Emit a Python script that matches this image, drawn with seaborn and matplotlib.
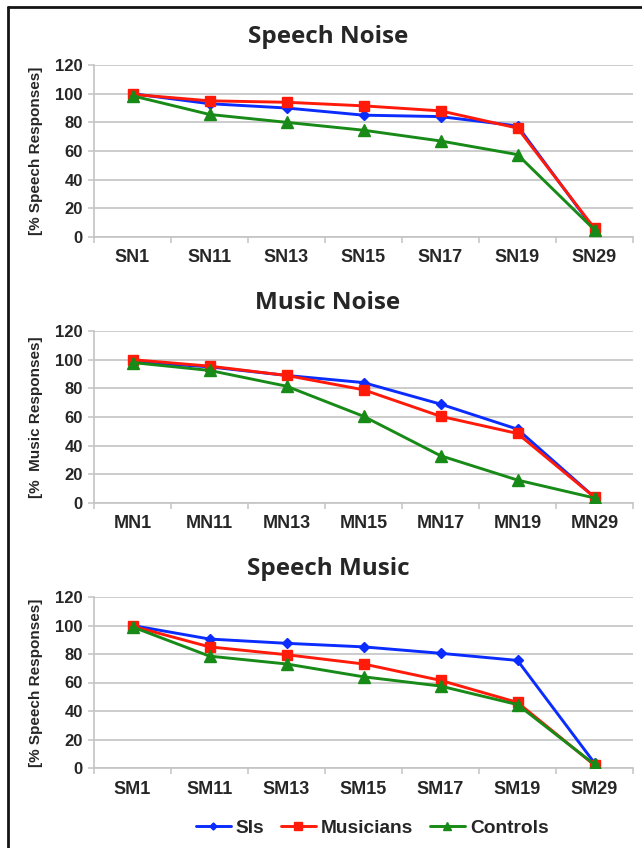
import numpy as np
import pandas as pd
import matplotlib
matplotlib.use("Agg")
import matplotlib.pyplot as plt
from matplotlib.lines import Line2D
from matplotlib.ticker import FixedLocator
import seaborn as sns

# ---- data -------------------------------------------------------------
groups = ["SIs", "Musicians", "Controls"]

sn_labels = ["SN1", "SN11", "SN13", "SN15", "SN17", "SN19", "SN29"]
sn_sis = [100, 93, 90, 85, 84, 77.5, 5]
sn_musicians = [99.5, 95, 94, 91.5, 88, 76, 6]
sn_controls = [98.5, 85.5, 80, 74.5, 67, 57.5, 5]

mn_labels = ["MN1", "MN11", "MN13", "MN15", "MN17", "MN19", "MN29"]
mn_sis = [98.5, 95, 89, 84, 69, 51.5, 4]
mn_musicians = [100, 95.5, 89, 79, 60.5, 48.5, 4]
mn_controls = [98, 92.5, 81.5, 60.5, 33, 16, 3.5]

sm_labels = ["SM1", "SM11", "SM13", "SM15", "SM17", "SM19", "SM29"]
sm_sis = [100, 90.5, 87.5, 85, 80.5, 75.5, 3.5]
sm_musicians = [99.5, 85, 79.5, 73, 61.5, 46, 2]
sm_controls = [99, 78.5, 73, 64, 57.5, 44.5, 2.5]

titles = ["Speech Noise", "Music Noise", "Speech Music"]
ylabels = ["[% Speech Responses]", "[%  Music Responses]", "[% Speech Responses]"]

panels = [
    (sn_labels, [sn_sis, sn_musicians, sn_controls]),
    (mn_labels, [mn_sis, mn_musicians, mn_controls]),
    (sm_labels, [sm_sis, sm_musicians, sm_controls]),
]

# ---- styling -------------------------------------------------------------
sns.set_theme(style="white")
plt.rcParams["font.family"] = ["Liberation Sans", "DejaVu Sans"]
plt.rcParams["font.weight"] = "bold"

colors = {"SIs": "#0a2cff", "Musicians": "#ff1a0a", "Controls": "#178a17"}
markers = {"SIs": "D", "Musicians": "s", "Controls": "^"}
msizes = {"SIs": 4.8, "Musicians": 7.0, "Controls": 8.0}
grid_col = "#c4c4c4"

W, H = 642, 848
fig = plt.figure(figsize=(W / 100, H / 100), dpi=100)
fig.patch.set_facecolor("white")

# axes boxes in pixels: (top, bottom)
boxes = [(65, 237), (331, 503), (597, 768)]
left_px, right_px = 94, 633

for (labels, series), title, ylab, (top, bot) in zip(panels, titles, ylabels, boxes):
    ax = fig.add_axes([left_px / W, 1 - bot / H, (right_px - left_px) / W, (bot - top) / H])
    df = pd.DataFrame({
        "cond": labels * len(groups),
        "value": [v for s in series for v in s],
        "group": [g for g in groups for _ in labels],
    })
    for g in groups:
        sub = df[df["group"] == g]
        sns.lineplot(data=sub, x="cond", y="value", ax=ax, sort=False,
                     color=colors[g], marker=markers[g], markersize=msizes[g],
                     markeredgecolor=colors[g], markeredgewidth=1,
                     linewidth=2.1, label=g, legend=False, zorder=3)

    ax.set_xlim(-0.5, 6.5)
    ax.set_ylim(0, 120)
    ax.set_yticks(range(0, 121, 20))
    ax.set_xticks(range(len(labels)))
    ax.set_xticklabels(labels)
    ax.xaxis.set_minor_locator(FixedLocator(np.arange(-0.5, 7, 1)))
    ax.grid(axis="y", color=grid_col, linewidth=1.2)
    ax.grid(axis="x", visible=False)
    ax.set_axisbelow(True)
    for side in ("top", "right"):
        ax.spines[side].set_visible(False)
    for side in ("left", "bottom"):
        ax.spines[side].set_color(grid_col)
        ax.spines[side].set_linewidth(1.2)
    ax.tick_params(axis="y", which="major", length=4, width=1.1, color=grid_col,
                   direction="out", pad=4, labelsize=12, left=True)
    ax.tick_params(axis="x", which="major", length=0, pad=9, labelsize=13)
    ax.tick_params(axis="x", which="minor", length=4, width=1.1, color=grid_col,
                   direction="out", bottom=True)
    for t in ax.get_xticklabels() + ax.get_yticklabels():
        t.set_fontweight("bold")
    ax.set_xlabel("")
    ax.set_ylabel(ylab, fontsize=11, fontweight="bold")
    ax.yaxis.set_label_coords(-0.094, 0.5)
    ax.set_title(title, fontfamily=["Open Sans", "DejaVu Sans"], fontweight="bold",
                 fontsize=17.5, x=0.434, pad=16)

# legend below the last panel
handles = [Line2D([0], [0], color=colors[g], marker=markers[g],
                  markersize=msizes[g] * 0.75, markeredgecolor=colors[g],
                  linewidth=2.1) for g in groups]
fig.legend(handles, groups, loc="center", bbox_to_anchor=(372 / W, 1 - 828 / H),
           ncol=3, frameon=False, handlelength=1.85, handletextpad=0.25,
           columnspacing=0.85, prop={"weight": "bold", "size": 13.8})

# frame lines along the top and left edges
fig.add_artist(Line2D([8 / W, 8 / W], [1 - 7 / H, 0], transform=fig.transFigure,
                      color="#151515", linewidth=2.0))
fig.add_artist(Line2D([8 / W, 1], [1 - 7 / H, 1 - 7 / H], transform=fig.transFigure,
                      color="#151515", linewidth=2.0))

fig.savefig("out.png", dpi=100, facecolor="white")
